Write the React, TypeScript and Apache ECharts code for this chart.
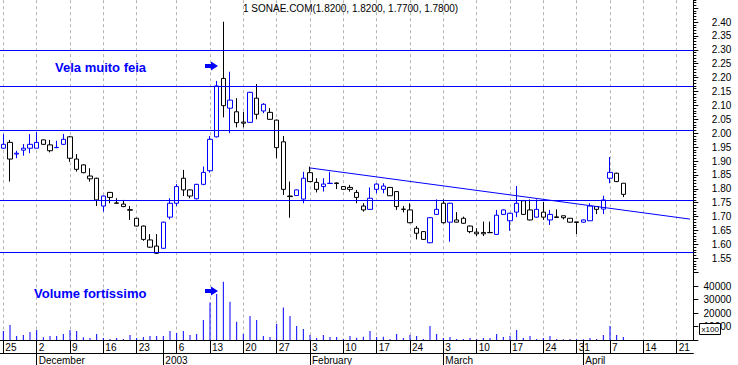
import React, { useEffect, useRef } from 'react';
import * as echarts from 'echarts';

const titleText = '1 SONAE.COM(1.8200, 1.8200, 1.7700, 1.7800)';

const dates = [
  '2002-11-25', '2002-11-26', '2002-11-27', '2002-11-28', '2002-11-29',
  '2002-12-02', '2002-12-03', '2002-12-04', '2002-12-05', '2002-12-06',
  '2002-12-09', '2002-12-10', '2002-12-11', '2002-12-12', '2002-12-13',
  '2002-12-16', '2002-12-17', '2002-12-18', '2002-12-19', '2002-12-20',
  '2002-12-23', '2002-12-27', '2002-12-30', '2002-12-31',
  '2003-01-02', '2003-01-03',
  '2003-01-06', '2003-01-07', '2003-01-08', '2003-01-09', '2003-01-10',
  '2003-01-13', '2003-01-14', '2003-01-15', '2003-01-16', '2003-01-17',
  '2003-01-20', '2003-01-21', '2003-01-22', '2003-01-23', '2003-01-24',
  '2003-01-27', '2003-01-28', '2003-01-29', '2003-01-30', '2003-01-31',
  '2003-02-03', '2003-02-04', '2003-02-05', '2003-02-06', '2003-02-07',
  '2003-02-10', '2003-02-11', '2003-02-12', '2003-02-13', '2003-02-14',
  '2003-02-17', '2003-02-18', '2003-02-19', '2003-02-20', '2003-02-21',
  '2003-02-24', '2003-02-25', '2003-02-26', '2003-02-27', '2003-02-28',
  '2003-03-03', '2003-03-04', '2003-03-05', '2003-03-06', '2003-03-07',
  '2003-03-10', '2003-03-11', '2003-03-12', '2003-03-13', '2003-03-14',
  '2003-03-17', '2003-03-18', '2003-03-19', '2003-03-20', '2003-03-21',
  '2003-03-24', '2003-03-25', '2003-03-26', '2003-03-27', '2003-03-28',
  '2003-03-31', '2003-04-01', '2003-04-02', '2003-04-03', '2003-04-04',
  '2003-04-07', '2003-04-08', '2003-04-09', '2003-04-10', '2003-04-11',
  '2003-04-14', '2003-04-15', '2003-04-16', '2003-04-17', '2003-04-18',
  '2003-04-21', '2003-04-22', '2003-04-23',
];

// open, high, low, close
const ohlc: number[][] = [
  [1.946, 1.997, 1.943, 1.960], [1.967, 1.976, 1.826, 1.907], [1.925, 1.937, 1.910, 1.928],
  [1.939, 1.961, 1.919, 1.946], [1.946, 1.997, 1.928, 1.960], [1.946, 2.005, 1.946, 1.967],
  [1.976, 1.977, 1.958, 1.960], [1.958, 1.976, 1.931, 1.937], [1.948, 1.973, 1.948, 1.949],
  [1.960, 1.997, 1.958, 1.978], [1.987, 1.990, 1.897, 1.910], [1.907, 1.925, 1.862, 1.870],
  [1.886, 1.888, 1.856, 1.858], [1.846, 1.874, 1.826, 1.836], [1.838, 1.840, 1.738, 1.760],
  [1.738, 1.776, 1.718, 1.774], [1.787, 1.789, 1.748, 1.769], [1.749, 1.766, 1.747, 1.748],
  [1.745, 1.760, 1.734, 1.736], [1.725, 1.738, 1.688, 1.723], [1.694, 1.696, 1.664, 1.666],
  [1.666, 1.668, 1.613, 1.618], [1.616, 1.637, 1.588, 1.590], [1.594, 1.637, 1.566, 1.568],
  [1.586, 1.682, 1.584, 1.680], [1.698, 1.766, 1.690, 1.748], [1.748, 1.817, 1.738, 1.808],
  [1.838, 1.868, 1.774, 1.796], [1.796, 1.798, 1.766, 1.774], [1.764, 1.818, 1.762, 1.816],
  [1.816, 1.880, 1.813, 1.859], [1.865, 1.990, 1.858, 1.978], [1.987, 2.188, 1.985, 2.170],
  [2.197, 2.401, 2.057, 2.099], [2.090, 2.221, 2.000, 2.119], [2.077, 2.126, 2.021, 2.038],
  [2.040, 2.077, 2.021, 2.036], [2.039, 2.149, 2.037, 2.147], [2.126, 2.177, 2.050, 2.068],
  [2.104, 2.108, 2.072, 2.080], [2.075, 2.090, 2.048, 2.050], [2.047, 2.049, 1.910, 1.948],
  [1.969, 1.990, 1.778, 1.798], [1.774, 1.826, 1.696, 1.772], [1.796, 1.797, 1.774, 1.776],
  [1.763, 1.861, 1.748, 1.838], [1.858, 1.880, 1.824, 1.826], [1.823, 1.838, 1.787, 1.798],
  [1.808, 1.838, 1.790, 1.817], [1.819, 1.861, 1.818, 1.820], [1.821, 1.823, 1.799, 1.819],
  [1.798, 1.809, 1.797, 1.808], [1.805, 1.814, 1.790, 1.798], [1.787, 1.796, 1.748, 1.769],
  [1.738, 1.748, 1.718, 1.724], [1.726, 1.805, 1.725, 1.766], [1.817, 1.820, 1.784, 1.798],
  [1.798, 1.820, 1.784, 1.810], [1.805, 1.806, 1.774, 1.775], [1.790, 1.791, 1.724, 1.736],
  [1.727, 1.738, 1.715, 1.726], [1.724, 1.748, 1.676, 1.678], [1.658, 1.666, 1.618, 1.640],
  [1.646, 1.648, 1.616, 1.618], [1.606, 1.698, 1.604, 1.696], [1.708, 1.762, 1.706, 1.726],
  [1.748, 1.762, 1.675, 1.678], [1.680, 1.750, 1.610, 1.748], [1.680, 1.716, 1.679, 1.688],
  [1.694, 1.700, 1.674, 1.676], [1.666, 1.668, 1.640, 1.646], [1.638, 1.658, 1.630, 1.644],
  [1.638, 1.682, 1.630, 1.643], [1.643, 1.682, 1.641, 1.642], [1.636, 1.724, 1.634, 1.705],
  [1.724, 1.726, 1.706, 1.708], [1.685, 1.714, 1.649, 1.712], [1.716, 1.810, 1.698, 1.748],
  [1.757, 1.760, 1.706, 1.708], [1.724, 1.762, 1.686, 1.688], [1.698, 1.762, 1.696, 1.726],
  [1.716, 1.753, 1.688, 1.698], [1.688, 1.724, 1.670, 1.708], [1.699, 1.726, 1.696, 1.697],
  [1.703, 1.704, 1.690, 1.696], [1.694, 1.695, 1.678, 1.680], [1.681, 1.681, 1.637, 1.679],
  [1.680, 1.690, 1.678, 1.688], [1.685, 1.748, 1.684, 1.738], [1.736, 1.738, 1.709, 1.726],
  [1.727, 1.775, 1.709, 1.760], [1.838, 1.914, 1.820, 1.859], [1.856, 1.858, 1.824, 1.826],
  [1.820, 1.820, 1.770, 1.780],
];

// volume in hundreds of shares (axis is labelled x100)
const volumes = [
  6700, 11100, 3000, 3700, 5900, 7400, 2000, 3000, 3000, 4400,
  7400, 6700, 2000, 1500, 4400, 1500, 700, 1500, 700, 3700,
  1500, 2200, 3000, 3000, 3000, 6700, 5200, 6700, 3700, 4400,
  14800, 27700, 34100, 43200, 28400, 13600, 4400, 17800, 14800, 3000,
  2200, 11900, 24000, 17800, 10400, 8100, 3700, 1500, 3700, 2200,
  2200, 700, 3000, 1700, 2500, 6700, 2200, 2500, 700, 4400,
  1500, 3700, 3000, 700, 10400, 4400, 1500, 2200, 700, 700,
  1500, 700, 1500, 1500, 4400, 2200, 3000, 7400, 1500, 3000,
  700, 1500, 3000, 700, 500, 700, 500, 500, 1500, 700,
  3700, 10400, 3700, 2200,
];

const weekLabelDates = [
  '2002-11-25', '2002-12-02', '2002-12-09', '2002-12-16', '2002-12-23',
  '2003-01-06', '2003-01-13', '2003-01-20', '2003-01-27', '2003-02-03',
  '2003-02-10', '2003-02-17', '2003-02-24', '2003-03-03', '2003-03-10',
  '2003-03-17', '2003-03-24', '2003-03-31', '2003-04-07', '2003-04-14',
  '2003-04-21',
];

const monthStartDates = ['2002-12-02', '2003-01-02', '2003-02-03', '2003-03-03', '2003-04-01'];
const monthLabels = ['December', '2003', 'February', 'March', 'April'];

const supportLevels = [2.30, 2.172, 2.007, 1.762, 1.570];
const trendStart = ['2003-02-03', 1.875];
const trendEnd = ['2003-04-23', 1.691];

const annotationPrice = 'Vela muito feia';
const annotationVolume = 'Volume fortíssimo';

const BLUE = '#0000ff';
const FONT = '"Liberation Sans", Arial, sans-serif';

export default function App() {
  const ref = useRef<HTMLDivElement>(null);
  useEffect(() => {
    const chart = echarts.init(ref.current!, null, { renderer: 'svg' });
    const weekSet = new Set(weekLabelDates);
    const monthSet = new Set(monthStartDates);
    const monthMap: Record<string, string> = {};
    monthStartDates.forEach((d, i) => (monthMap[d] = monthLabels[i]));

    const candleData = ohlc.map((d, i) => {
      const [o, h, l, c] = d;
      const prev = i === 0 ? o : ohlc[i - 1][3];
      const col = c >= prev ? BLUE : '#000';
      return {
        value: [o, c, l, h],
        itemStyle: { color: '#ffffff', color0: col, borderColor: col, borderColor0: col, borderWidth: 1 },
      };
    });

    const weekFn = (_i: number, v: string) => weekSet.has(v);
    const dayTickFn = (_i: number, v: string) => weekSet.has(v) || monthSet.has(v);
    const monthFn = (_i: number, v: string) => monthSet.has(v);

    const dashed = { show: true, interval: weekFn, alignWithLabel: true, lineStyle: { color: '#b4b4b4', width: 1, type: [3, 3] } };

    const option: any = {
      animation: false,
      backgroundColor: '#ffffff',
      title: {
        text: titleText,
        left: 243,
        top: 3,
        padding: 0,
        textStyle: { fontSize: 10, fontWeight: 'normal', fontFamily: FONT, color: '#000' },
      },
      grid: [
        { left: 0, width: 693.33, top: -5.8, height: 278, outerBoundsMode: 'none', containLabel: false },
        { left: 0, width: 693.33, top: 272.5, height: 67.5, outerBoundsMode: 'none', containLabel: false },
      ],
      xAxis: [
        {
          type: 'category', gridIndex: 0, data: dates, boundaryGap: true,
          axisLine: { show: false }, axisTick: { show: false }, axisLabel: { show: false },
          splitLine: dashed,
        },
        {
          type: 'category', gridIndex: 1, data: dates, boundaryGap: true, position: 'bottom',
          axisLine: { show: true, lineStyle: { color: '#000', width: 1 } },
          axisTick: { show: true, alignWithLabel: true, interval: dayTickFn, length: 13, lineStyle: { color: '#000' } },
          axisLabel: {
            show: true, interval: weekFn, align: 'left', margin: 2, padding: [0, 0, 0, 2],
            formatter: (v: string) => String(Number(v.slice(8))),
            fontSize: 10, fontFamily: FONT, color: '#000',
          },
          splitLine: dashed,
        },
        {
          type: 'category', gridIndex: 1, data: dates, boundaryGap: true, position: 'bottom', offset: 13,
          axisLine: { show: true, lineStyle: { color: '#000', width: 1 } },
          axisTick: { show: true, alignWithLabel: true, interval: monthFn, length: 12, lineStyle: { color: '#000' } },
          axisLabel: {
            show: true, interval: monthFn, align: 'left', margin: 2, padding: [0, 0, 0, 2],
            formatter: (v: string) => monthMap[v] || '',
            fontSize: 10, fontFamily: FONT, color: '#000',
          },
          splitLine: { show: false },
        },
      ],
      yAxis: [
        {
          type: 'value', gridIndex: 0, position: 'right', min: 1.5, max: 2.5, interval: 0.05,
          axisLine: { show: true, lineStyle: { color: '#000' } },
          axisTick: { show: true, length: 5, lineStyle: { color: '#000' } },
          minorTick: { show: true, splitNumber: 5, length: 3, lineStyle: { color: '#000' } },
          splitLine: { show: false },
          axisLabel: {
            margin: 38, align: 'right', fontSize: 10, fontFamily: FONT, color: '#000',
            formatter: (v: number) => (v < 1.545 || v > 2.42 ? '' : v.toFixed(2)),
          },
        },
        {
          type: 'value', gridIndex: 1, position: 'right', min: 0, max: 50000, interval: 10000,
          axisLine: { show: true, lineStyle: { color: '#000' } },
          axisTick: { show: true, length: 5, lineStyle: { color: '#000' } },
          splitLine: { show: false },
          axisLabel: {
            margin: 38, align: 'right', fontSize: 10, fontFamily: FONT, color: '#000',
            formatter: (v: number) => (v <= 0 || v >= 50000 ? '' : String(v)),
          },
        },
      ],
      series: [
        {
          type: 'candlestick', xAxisIndex: 0, yAxisIndex: 0, barWidth: 5,
          data: candleData,
          markLine: {
            silent: true, symbol: ['none', 'none'], label: { show: false },
            lineStyle: { color: BLUE, width: 1, type: 'solid' },
            data: [
              ...supportLevels.map((v) => ({ yAxis: v })),
              [{ coord: trendStart }, { coord: trendEnd }],
            ],
          },
        },
        {
          type: 'bar', xAxisIndex: 1, yAxisIndex: 1, barWidth: 1,
          itemStyle: { color: BLUE },
          data: volumes,
        },
      ],
      graphic: [
        {
          type: 'text', x: 55, y: 67, z: 100,
          style: { text: annotationPrice, fill: BLUE, fontSize: 13, fontWeight: 'bold', fontFamily: FONT, verticalAlign: 'middle' },
        },
        {
          type: 'polygon', z: 100,
          shape: { points: [[205, 64], [211, 64], [211, 61.5], [218, 66], [211, 70.5], [211, 68], [205, 68]] },
          style: { fill: BLUE },
        },
        {
          type: 'text', x: 34, y: 293.5, z: 100,
          style: { text: annotationVolume, fill: BLUE, fontSize: 13, fontWeight: 'bold', fontFamily: FONT, verticalAlign: 'middle' },
        },
        {
          type: 'polygon', z: 100,
          shape: { points: [[205, 289], [211, 289], [211, 286.5], [218, 291], [211, 295.5], [211, 293], [205, 293]] },
          style: { fill: BLUE },
        },
        {
          type: 'rect', z: 100,
          shape: { x: 699.5, y: 323.5, width: 21, height: 11 },
          style: { fill: '#ffffff', stroke: '#000', lineWidth: 1 },
        },
        {
          type: 'text', x: 701.5, y: 329.5, z: 101,
          style: { text: 'x100', fill: '#000', fontSize: 8, fontFamily: FONT, verticalAlign: 'middle' },
        },
      ],
    };
    chart.setOption(option);
    return () => chart.dispose();
  }, []);
  return (
    <div
      ref={ref}
      style={{ position: 'absolute', left: 0, top: 0, width: 738, height: 365, background: '#fff' }}
    />
  );
}
